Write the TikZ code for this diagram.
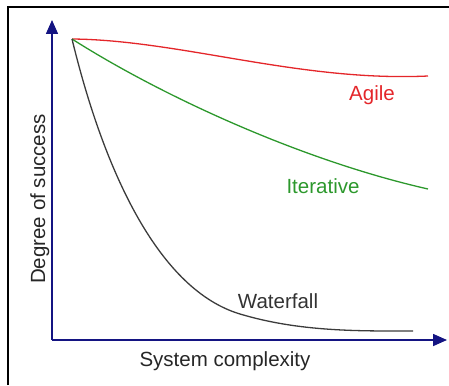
\documentclass[tikz,border=0pt]{standalone}
\usepackage{fontspec}
\setmainfont{Liberation Sans}
\usetikzlibrary{arrows.meta}

\definecolor{axisblue}{RGB}{20,20,130}
\definecolor{agilered}{RGB}{228,38,42}
\definecolor{itergreen}{RGB}{44,152,44}
\definecolor{wfgray}{RGB}{60,60,60}

\begin{document}
\begin{tikzpicture}[
        x=1pt, y=-1pt,
        axis/.style={draw=axisblue, line width=1.6pt, -{Triangle[length=14pt,width=12pt]}},
        curve/.style={line width=1.3pt},
        label/.style={anchor=base, inner sep=0pt, font=\fontsize{20.5}{24}\selectfont},
    ]
        \useasboundingbox (0,0) rectangle (449,385);

        % frame (cropped: only top and left show)
        \draw[line width=2pt] (8,385) -- (8,7) -- (449,7);

        % axes
        \coordinate (origin) at (52,340);
        \coordinate (ytop) at (52,20);
        \coordinate (xend) at (447,340);
        \draw[axis] (origin) -- (ytop);
        \draw[axis] (origin) -- (xend);

        % curve ends
        \coordinate (start) at (72,39);
        \coordinate (agileend) at (428,76);
        \coordinate (iterend) at (428,189);
        \coordinate (wfbend) at (240,314);
        \coordinate (wfend) at (413,331);

        \draw[curve, agilered] (start) .. controls (180,40) and (300,82) .. (agileend);
        \draw[curve, itergreen] (start) .. controls (160,95) and (300,160) .. (iterend);
        \draw[curve, wfgray] (start) .. controls (105,175) and (160,290) .. (wfbend)
            .. controls (300,332) and (360,331) .. (wfend);

        % labels
        \node (agile) [label, text=agilered] at (372,101) {Agile};
        \node (iter) [label, text=itergreen] at (323,193) {Iterative};
        \node (wf) [label, text=black!80] at (278,308) {Waterfall};
        \node (xlabel) [label, text=black!85] at (225,366) {System complexity};
        \node (ylabel) [label, text=black!85, rotate=90] at (45,199) {Degree of success};
\end{tikzpicture}
\end{document}
